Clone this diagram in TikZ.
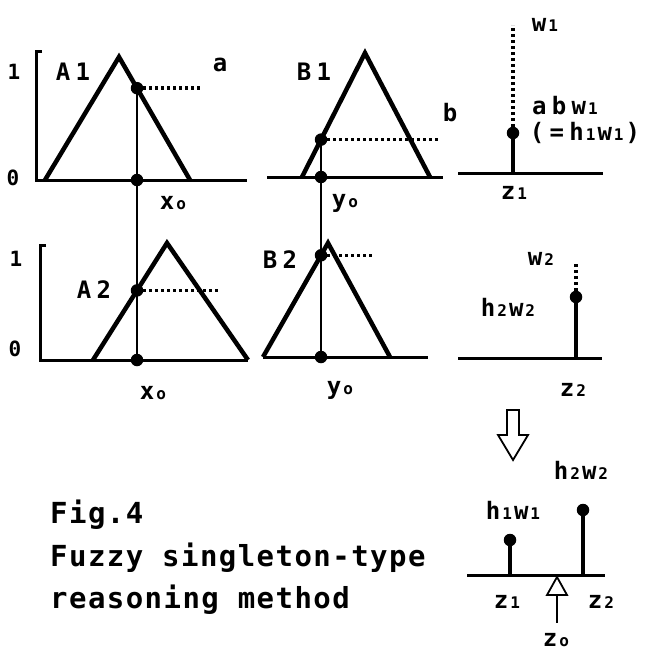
\documentclass[tikz,border=0pt]{standalone}
\usepackage{fontspec}
\newfontfamily\labfont[LetterSpace=5]{DejaVu Sans Mono}
\newfontfamily\widefont[LetterSpace=22]{DejaVu Sans Mono}
\usetikzlibrary{positioning,calc}
\newcommand\lo[1]{\hspace{2pt}{\fontsize{16}{16}\selectfont #1}\hspace{2pt}}

\begin{document}
\begin{tikzpicture}[x=1pt, y=-1pt,
  lab/.style={font=\widefont\bfseries\fontsize{24}{24}\selectfont, inner sep=0pt},
  tight/.style={font=\labfont\bfseries\fontsize{24}{24}\selectfont, inner sep=0pt},
  num/.style={font=\labfont\bfseries\fontsize{21}{21}\selectfont, inner sep=0pt},
  figcap/.style={font=\labfont\bfseries\fontsize{29}{29}\selectfont, inner sep=0pt, anchor=base west},
  memb/.style={line width=4.5pt, line join=miter},
  axis/.style={line width=3pt},
  cut/.style={line width=1.8pt},
  lvl/.style={line width=3.5pt, dash pattern=on 3pt off 3pt},
  blob/.style={circle, fill, inner sep=0pt, minimum size=12.5pt},
  stem/.style={line width=4.5pt},
  hollow/.style={line width=1.8pt, fill=white, line join=miter}
]
  \useasboundingbox (0,0) rectangle (650,658);

  \coordinate (a1t) at (119,57);  \coordinate (a1r) at (190,180);
  \coordinate (a2l) at (93,360);  \coordinate (a2t) at (167,243);
  \coordinate (b1l) at (302,177); \coordinate (b1t) at (365,53);
  \coordinate (b2l) at (263,357); \coordinate (b2t) at (328,243);
  \coordinate (xtop) at (137,0);  \coordinate (xbot) at (137,360);
  \coordinate (ytop) at (321,0);  \coordinate (ybot) at (321,357);
  \coordinate (xa0) at (137,180); \coordinate (yb0) at (321,177);
  \coordinate (ha)  at (intersection of a1t--a1r and xtop--xbot);
  \coordinate (ha2) at (intersection of a2l--a2t and xtop--xbot);
  \coordinate (hb)  at (intersection of b1l--b1t and ytop--ybot);
  \coordinate (hb2) at (intersection of b2l--b2t and ytop--ybot);

  % antecedent parts
  \draw[axis] (42,52) -- (36,52) -- (36,180) -- (247,180);
  \draw[memb] (45,180) -- (a1t) -- (a1r);
  \draw[axis] (46,245) -- (40,245) -- (40,360) -- (248,360);
  \draw[memb] (a2l) -- (a2t) -- (248,360);
  \draw[axis] (267,177) -- (443,177);
  \draw[memb] (b1l) -- (b1t) -- (430,177);
  \draw[axis] (b2l) -- (428,357);
  \draw[memb] (b2l) -- (b2t) -- (390,357);

  \draw[cut] (ha) -- (xbot);
  \draw[cut] (hb) -- (ybot);
  \draw[lvl] (ha)  -- ++(65,0);
  \draw[lvl] (ha2) -- ++(81,0);
  \draw[lvl] (hb)  -- ++(117,0);
  \draw[lvl] (hb2) -- ++(53,0);
  \foreach \p in {ha,ha2,hb,hb2,xa0,xbot,yb0,ybot}
    \node[blob] at (\p) {};

  \node[num] (one1)  at (14,72)  {1};
  \node[num] (zero1) at (13,178) {0};
  \node[num] (one2)  at (16,259) {1};
  \node[num] (zero2) at (15,349) {0};
  \node[lab] (A1) at (73,72)  {A1};
  \node[lab] (A2) at (94,290) {A2};
  \node[lab] (B1) at (314,72) {B1};
  \node[lab] (B2) at (280,260) {B2};
  \node[tight] (la) at (220,65)  {a};
  \node[tight] (lb) at (450,113) {b};
  \node[tight] (x1) at (173,203) {x\lo{o}};
  \node[tight] (x2) at (153,393) {x\lo{o}};
  \node[tight] (y1) at (345,203) {y\lo{o}};
  \node[tight] (y2) at (340,390) {y\lo{o}};

  % consequent parts
  \coordinate (s1) at (513,173); \coordinate (h1) at (513,133); \coordinate (w1) at (513,25);
  \coordinate (s2) at (576,358); \coordinate (h2) at (576,297); \coordinate (w2) at (576,262);
  \draw[axis] (458,173) -- (603,173);
  \draw[stem] (s1) -- (h1);
  \draw[lvl]  (h1) -- (w1);
  \node[blob] at (h1) {};
  \draw[axis] (458,358) -- (602,358);
  \draw[stem] (s2) -- (h2);
  \draw[lvl]  (h2) -- (w2);
  \node[blob] at (h2) {};

  \node[lab] (lw1)  at (545,25)  {w\lo{1}};
  \node[lab] (abw)  at (565,106) {abw\lo{1}};
  \node[lab] (eqh)  at (585,133) {(=h\lo{1}w\lo{1})};
  \node[tight] (z1) at (514,193) {z\lo{1}};
  \node[lab] (lw2)  at (541,259) {w\lo{2}};
  \node[lab] (hw2)  at (508,307) {h\lo{2}w\lo{2}};
  \node[lab] (z2)   at (573,390) {z\lo{2}};

  % result
  \draw[hollow] (507,410) -- (519,410) -- (519,435) -- (528,435) -- (513,460)
    -- (498,435) -- (507,435) -- cycle;
  \coordinate (r1) at (510,575); \coordinate (rh1) at (510,540);
  \coordinate (r2) at (583,575); \coordinate (rh2) at (583,510);
  \coordinate (zt) at (557,577); \coordinate (zb) at (557,623);
  \draw[axis] (467,575) -- (605,575);
  \draw[stem] (r1) -- (rh1);
  \draw[stem] (r2) -- (rh2);
  \node[blob] at (rh1) {};
  \node[blob] at (rh2) {};
  \draw[hollow] (zt) -- (567,595) -- (547,595) -- cycle;
  \draw[cut] (557,595) -- (zb);

  \node[lab] (rhw2) at (581,470) {h\lo{2}w\lo{2}};
  \node[lab] (rhw1) at (513,510) {h\lo{1}w\lo{1}};
  \node[lab] (rz1)  at (507,602) {z\lo{1}};
  \node[lab] (rz2)  at (601,602) {z\lo{2}};
  \node[tight] (rz0) at (556,640) {z\lo{o}};

  \node[figcap] (fig)    at (50,523) {Fig.4};
  \node[figcap] (title1) at (50,566) {Fuzzy singleton-type};
  \node[figcap] (title2) at (50,608) {reasoning method};
\end{tikzpicture}
\end{document}
